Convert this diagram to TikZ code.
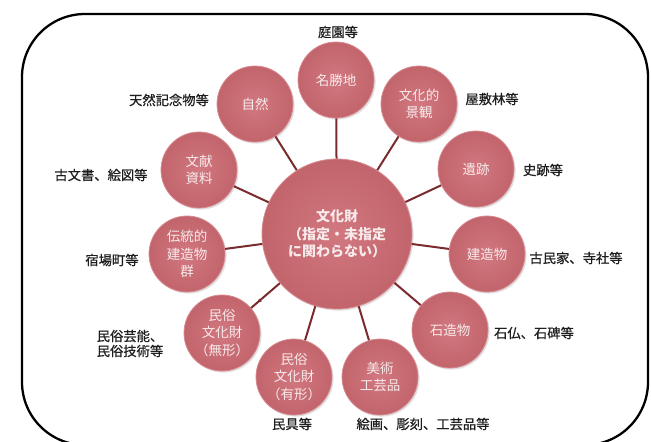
\documentclass[tikz,border=0pt]{standalone}
\usepackage{fontspec}
\setmainfont{Noto Sans CJK JP}
\newfontfamily\lblfont[RawFeature={embolden=0.6}]{Noto Sans CJK JP}
\usetikzlibrary{shadows,arrows.meta}
\definecolor{circin}{HTML}{D27880}
\definecolor{circout}{HTML}{C2646C}
\definecolor{circrim}{HTML}{D98A90}
\definecolor{linkcol}{HTML}{7A2B2D}
\definecolor{circtext}{HTML}{F7EAEB}
\definecolor{labeltext}{HTML}{1E1E1E}
\tikzset{
  sat/.style={circle, minimum size=76pt, inner sep=0pt, shading=radial,
    inner color=circin, outer color=circout, draw=circrim, line width=0.8pt,
    drop shadow={shadow xshift=1.6pt, shadow yshift=-1.6pt, fill=black!30, opacity=0.4},
    text=circtext, align=center, font=\fontsize{13.5}{17.5}\selectfont},
  hub/.style={sat, minimum size=150pt, font=\fontsize{14}{17.5}\selectfont\bfseries},
  lbl/.style={text=labeltext, font=\lblfont\fontsize{13.3}{15}\selectfont, inner sep=0pt},
  link/.style={draw=linkcol, line width=2pt},
  frame/.style={draw=black, line width=2.3pt, rounded corners=63pt}
}
\begin{document}
\begin{tikzpicture}[x=1pt,y=-1pt]
\useasboundingbox (0,0) rectangle (651,442);
\fill[white] (0,0) rectangle (651,442);
\draw[frame] (22,14) rectangle (648,445);

\node[hub] (c) at (337,234) {文化財\\（指定・未指定\\に関わらない）};

\node[sat] (meisho) at (336,80) {名勝地};
\node[sat] (shizen) at (255,104) {自然};
\node[sat] (keikan) at (419,104) {文化的\\景観};
\node[sat] (iseki) at (476,169) {遺跡};
\node[sat] (bunken) at (199,170) {文献\\資料};
\node[sat] (dento) at (187,254) {伝統的\\建造物\\群};
\node[sat] (kenzo) at (487,254) {建造物};
\node[sat] (mukei) at (222,333) {民俗\\文化財\\（無形）};
\node[sat] (sekizo) at (450,330) {石造物};
\node[sat] (yukei) at (294,377) {民俗\\文化財\\（有形）};
\node[sat] (bijutsu) at (380,377) {美術\\工芸品};

\foreach \s in {meisho,shizen,keikan,iseki,bunken,dento,kenzo,sekizo,yukei,bijutsu}
  \draw[link] (c) -- (\s);
\draw[link] (c) -- (mukei);
\path (c) -- (mukei) coordinate[pos=0.78] (mtip);
\draw[linkcol, line width=1pt, -{Stealth[length=4pt,width=4pt]}] (mtip) ++(3,-2.5) -- (mtip);

\node[lbl] (l1) at (338,32) {庭園等};
\node[lbl] (l2) at (169,100) {天然記念物等};
\node[lbl] (l3) at (492,99) {屋敷林等};
\node[lbl] (l4) at (101,175) {古文書、絵図等};
\node[lbl] (l5) at (543,170) {史跡等};
\node[lbl] (l6) at (112,260) {宿場町等};
\node[lbl] (l7) at (576,258) {古民家、寺社等};
\node[lbl, align=left] (l8) at (130,343.5) {民俗芸能、\\民俗技術等};
\node[lbl] (l9) at (534,333) {石仏、石碑等};
\node[lbl] (l10) at (292,424) {民具等};
\node[lbl] (l11) at (423,424) {絵画、彫刻、工芸品等};
\end{tikzpicture}
\end{document}
